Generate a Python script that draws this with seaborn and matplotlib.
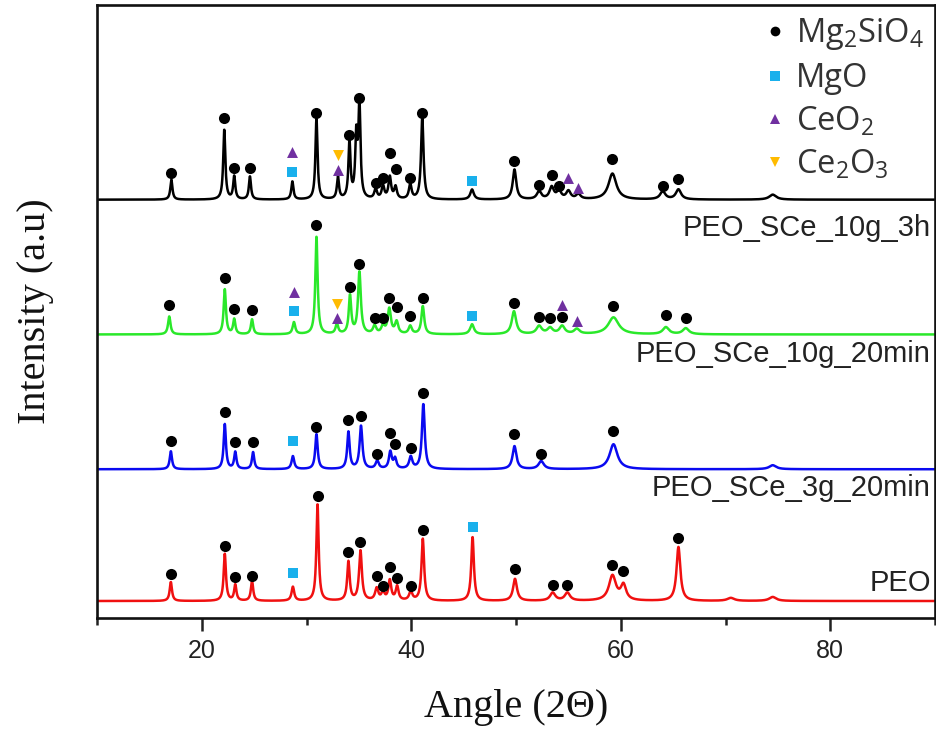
import numpy as np
import pandas as pd
import matplotlib
matplotlib.use("Agg")
import matplotlib.pyplot as plt
from matplotlib.lines import Line2D
from matplotlib.ticker import MultipleLocator
import seaborn as sns

# ---------------- data ----------------
samples = ["PEO_SCe_10g_3h", "PEO_SCe_10g_20min", "PEO_SCe_3g_20min", "PEO"]
line_colors = ["#000000", "#2AE82A", "#0A0AF0", "#F01010"]
offsets = [419, 284, 149, 17]          # stacking offset of each pattern (a.u.)

# peak list of each pattern: angle (2theta), height (a.u.), half width (deg)
peaks_10g_3h_angle = [17.1, 22.15, 23.1, 24.6, 28.65, 30.95, 33.0, 34.1, 34.75, 35.05, 36.6, 37.3,
                      37.95, 38.5, 39.9, 41.05, 45.8, 49.85, 52.2, 53.4, 54.1, 55.0, 55.95, 59.2,
                      64.0, 65.5, 74.5]
peaks_10g_3h_height = [20, 70, 23, 23, 18, 81, 22, 57, 60, 92, 10, 13, 22, 12, 15, 82, 10, 30,
                       8, 12, 8, 8, 5, 26, 8, 10, 5]
peaks_10g_3h_width = [0.12, 0.12, 0.12, 0.12, 0.12, 0.12, 0.12, 0.12, 0.12, 0.12, 0.15, 0.15,
                      0.15, 0.15, 0.15, 0.14, 0.2, 0.2, 0.25, 0.25, 0.25, 0.25, 0.25, 0.45,
                      0.3, 0.3, 0.4]

peaks_10g_20min_angle = [16.9, 22.2, 23.1, 24.8, 28.8, 30.95, 32.9, 34.15, 35.05, 36.5, 37.3, 37.9,
                         38.6, 39.9, 41.1, 45.8, 49.8, 52.2, 53.25, 54.4, 55.8, 59.3, 64.3, 66.2]
peaks_10g_20min_height = [18, 45, 15, 15, 12, 98, 10, 38, 62, 8, 8, 25, 12, 8, 28, 10, 23, 8,
                          6, 8, 5, 17, 7, 6]
peaks_10g_20min_width = [0.14, 0.13, 0.13, 0.13, 0.15, 0.13, 0.15, 0.14, 0.16, 0.18, 0.18, 0.18,
                         0.18, 0.18, 0.16, 0.22, 0.25, 0.3, 0.3, 0.3, 0.3, 0.6, 0.35, 0.35]

peaks_3g_20min_angle = [17.05, 22.2, 23.2, 24.9, 28.7, 30.95, 34.0, 35.2, 36.75, 38.0, 38.45, 39.95,
                        41.15, 49.85, 52.4, 59.3, 74.5]
peaks_3g_20min_height = [18, 45, 17, 17, 13, 35, 37, 43, 8, 17, 10, 12, 65, 23, 8, 25, 4]
peaks_3g_20min_width = [0.13, 0.13, 0.13, 0.13, 0.15, 0.14, 0.14, 0.16, 0.18, 0.16, 0.16, 0.18,
                        0.16, 0.22, 0.3, 0.45, 0.4]

peaks_peo_angle = [17.05, 22.2, 23.2, 24.8, 28.7, 31.05, 34.0, 35.15, 36.7, 37.3, 37.95, 38.65,
                   39.95, 41.1, 45.85, 49.9, 53.5, 54.9, 59.2, 60.25, 65.5, 70.5, 74.5]
peaks_peo_height = [19, 47, 16, 20, 14, 97, 39, 50, 12, 8, 20, 14, 9, 62, 64, 22, 8, 8, 25,
                    15, 54, 3, 4]
peaks_peo_width = [0.13, 0.13, 0.13, 0.13, 0.15, 0.13, 0.14, 0.16, 0.18, 0.18, 0.16, 0.16, 0.18,
                   0.15, 0.15, 0.22, 0.3, 0.3, 0.4, 0.3, 0.22, 0.4, 0.4]

# phase markers: angle and height above the pattern baseline
phases = ["Mg$_2$SiO$_4$", "MgO", "CeO$_2$", "Ce$_2$O$_3$"]
phase_colors = ["#000000", "#19B0EC", "#7030A0", "#FFBB00"]
phase_markers = ["o", "s", "^", "v"]

mk_10g_3h_mg2sio4_angle = [17.1, 22.15, 23.1, 24.6, 30.95, 34.1, 35.05, 36.6, 37.3, 37.95, 38.5,
                           39.9, 41.05, 49.85, 52.2, 53.4, 54.1, 59.2, 64.0, 65.5]
mk_10g_3h_mg2sio4_h = [27, 82, 32, 32, 87, 65, 102, 17, 22, 47, 31, 22, 87, 39, 15, 25, 14, 41, 14, 21]
mk_10g_3h_mgo_angle = [28.65, 45.8]
mk_10g_3h_mgo_h = [28, 19]
mk_10g_3h_ceo2_angle = [28.65, 33.0, 55.0, 55.95]
mk_10g_3h_ceo2_h = [48, 30, 22, 12]
mk_10g_3h_ce2o3_angle = [33.0]
mk_10g_3h_ce2o3_h = [45]

mk_10g_20min_mg2sio4_angle = [16.9, 22.2, 23.1, 24.8, 30.95, 34.15, 35.05, 36.5, 37.3, 37.9, 38.6,
                              39.9, 41.1, 49.8, 52.2, 53.25, 54.4, 59.3, 64.3, 66.2]
mk_10g_20min_mg2sio4_h = [29, 57, 25, 24, 110, 48, 71, 16, 16, 37, 27, 18, 37, 32, 17, 16, 17,
                          28, 19, 16]
mk_10g_20min_mgo_angle = [28.8, 45.8]
mk_10g_20min_mgo_h = [23, 18]
mk_10g_20min_ceo2_angle = [28.8, 32.9, 54.4, 55.8]
mk_10g_20min_ceo2_h = [43, 16, 29, 13]
mk_10g_20min_ce2o3_angle = [32.9]
mk_10g_20min_ce2o3_h = [31]

mk_3g_20min_mg2sio4_angle = [17.05, 22.2, 23.2, 24.9, 30.95, 34.0, 35.2, 36.75, 38.0, 38.45, 39.95,
                             41.15, 49.85, 52.4, 59.3]
mk_3g_20min_mg2sio4_h = [28, 57, 27, 27, 42, 49, 53, 15, 36, 25, 21, 76, 35, 15, 38]
mk_3g_20min_mgo_angle = [28.7]
mk_3g_20min_mgo_h = [28]

mk_peo_mg2sio4_angle = [17.05, 22.2, 23.2, 24.8, 31.05, 34.0, 35.15, 36.7, 37.3, 37.95, 38.65,
                        39.95, 41.1, 49.9, 53.5, 54.9, 59.2, 60.25, 65.5]
mk_peo_mg2sio4_h = [27, 55, 24, 25, 105, 49, 59, 25, 15, 34, 23, 15, 71, 32, 16, 16, 36, 30, 63]
mk_peo_mgo_angle = [28.7, 45.85]
mk_peo_mgo_h = [28, 74]

x_ticks = [20, 40, 60, 80]
x_range = (10, 90)
x_label = "Angle (2\u0398)"
y_label = "Intensity (a.u)"

# ---------------- build tables ----------------
peak_sets = [
    (peaks_10g_3h_angle, peaks_10g_3h_height, peaks_10g_3h_width),
    (peaks_10g_20min_angle, peaks_10g_20min_height, peaks_10g_20min_width),
    (peaks_3g_20min_angle, peaks_3g_20min_height, peaks_3g_20min_width),
    (peaks_peo_angle, peaks_peo_height, peaks_peo_width),
]
grid = np.arange(x_range[0], x_range[1] + 0.001, 0.02)
frames = []
for name, off, (pa, ph, pw) in zip(samples, offsets, peak_sets):
    y = np.full_like(grid, float(off))
    for a, h, w in zip(pa, ph, pw):
        y += h / (1.0 + ((grid - a) / w) ** 2)
    frames.append(pd.DataFrame({"angle": grid, "intensity": y, "sample": name}))
patterns = pd.concat(frames, ignore_index=True)

marker_sets = [
    (0, 0, mk_10g_3h_mg2sio4_angle, mk_10g_3h_mg2sio4_h),
    (0, 1, mk_10g_3h_mgo_angle, mk_10g_3h_mgo_h),
    (0, 2, mk_10g_3h_ceo2_angle, mk_10g_3h_ceo2_h),
    (0, 3, mk_10g_3h_ce2o3_angle, mk_10g_3h_ce2o3_h),
    (1, 0, mk_10g_20min_mg2sio4_angle, mk_10g_20min_mg2sio4_h),
    (1, 1, mk_10g_20min_mgo_angle, mk_10g_20min_mgo_h),
    (1, 2, mk_10g_20min_ceo2_angle, mk_10g_20min_ceo2_h),
    (1, 3, mk_10g_20min_ce2o3_angle, mk_10g_20min_ce2o3_h),
    (2, 0, mk_3g_20min_mg2sio4_angle, mk_3g_20min_mg2sio4_h),
    (2, 1, mk_3g_20min_mgo_angle, mk_3g_20min_mgo_h),
    (3, 0, mk_peo_mg2sio4_angle, mk_peo_mg2sio4_h),
    (3, 1, mk_peo_mgo_angle, mk_peo_mgo_h),
]
rows = []
for si, pi, angs, hs in marker_sets:
    for a, h in zip(angs, hs):
        rows.append({"angle": a, "y": offsets[si] + h, "phase": phases[pi]})
marks = pd.DataFrame(rows)

# ---------------- plot ----------------
sns.set_theme(style="white")
plt.rcParams["font.family"] = ["Liberation Sans", "DejaVu Sans"]
plt.rcParams["mathtext.default"] = "regular"

fig = plt.figure(figsize=(9.37, 7.33), dpi=100)
ax = fig.add_axes([0.1035, 0.1569, 0.8945, 0.8363])

sns.lineplot(data=patterns, x="angle", y="intensity", hue="sample",
             palette=dict(zip(samples, line_colors)), estimator=None, sort=False,
             linewidth=1.8, legend=False, ax=ax)

sizes = {"o": 64, "s": 52, "^": 62, "v": 62}
for ph, col, mk in zip(phases, phase_colors, phase_markers):
    sub = marks[marks["phase"] == ph]
    if len(sub):
        sns.scatterplot(data=sub, x="angle", y="y", color=col, marker=mk,
                        s=sizes[mk], linewidth=0, legend=False, ax=ax, zorder=5)

ax.set_xlim(*x_range)
ax.set_ylim(0, 614)
ax.set_xticks(x_ticks)
ax.xaxis.set_minor_locator(MultipleLocator(10))
ax.set_yticks([])
ax.tick_params(axis="x", which="major", direction="out", length=9, width=1.8,
               labelsize=18, colors="#222222", bottom=True, pad=6)
ax.tick_params(axis="x", which="minor", direction="out", length=5, width=1.8,
               colors="#222222", bottom=True)
for sp in ax.spines.values():
    sp.set_color("#111111")
    sp.set_linewidth(1.9)

ax.set_xlabel(x_label, family=["Liberation Serif", "DejaVu Serif"], fontsize=29,
              color="#111111", labelpad=19)
ax.set_ylabel(y_label, family=["Liberation Serif", "DejaVu Serif"], fontsize=29,
              color="#111111", labelpad=31)

label_y = [391, 264, 130, 35]
for name, ly in zip(samples, label_y):
    ax.text(89.6, ly, name, ha="right", va="center", fontsize=21, color="#222222")

handles = [Line2D([], [], linestyle="none", marker=m, color=c, markersize=7,
                  markeredgewidth=0) for m, c in zip(phase_markers, phase_colors)]
leg = ax.legend(handles, phases, loc="upper right", bbox_to_anchor=(1.0, 1.0),
                frameon=False, handlelength=0.6, handletextpad=0.35,
                labelspacing=0.3, borderaxespad=0.1, borderpad=0.25,
                prop={"family": ["Open Sans", "DejaVu Sans"], "size": 23.5})
for t in leg.get_texts():
    t.set_color("#333333")

fig.savefig("out.png", dpi=100)
